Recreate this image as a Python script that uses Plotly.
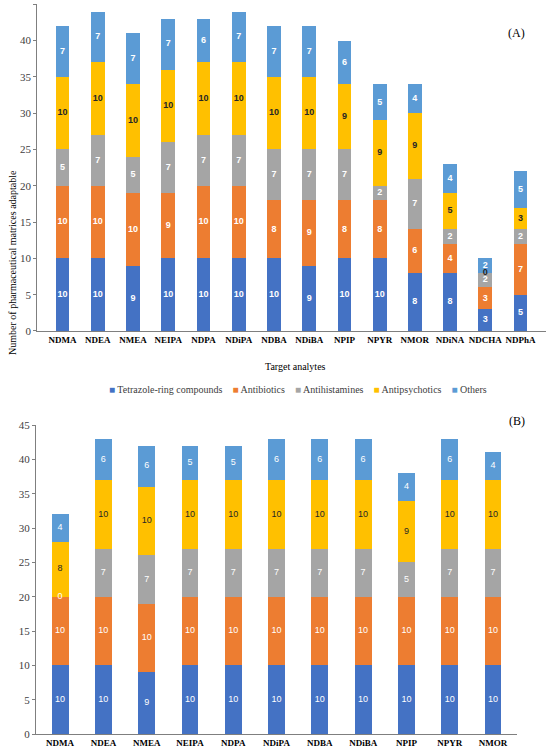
import plotly.graph_objects as go
from plotly.subplots import make_subplots

# --- Data ---
series_names = ['Tetrazole-ring compounds', 'Antibiotics', 'Antihistamines', 'Antipsychotics', 'Others']
series_colors = ['#4472C4', '#ED7D31', '#A5A5A5', '#FFC000', '#5B9BD5']
label_colors = ['white', 'white', 'white', '#262626', 'white']

analytes_a = ['NDMA', 'NDEA', 'NMEA', 'NEIPA', 'NDPA', 'NDiPA', 'NDBA', 'NDiBA',
              'NPIP', 'NPYR', 'NMOR', 'NDiNA', 'NDCHA', 'NDPhA']
tetrazole_a = [10, 10, 9, 10, 10, 10, 10, 9, 10, 10, 8, 8, 3, 5]
antibiotics_a = [10, 10, 10, 9, 10, 10, 8, 9, 8, 8, 6, 4, 3, 7]
antihistamines_a = [5, 7, 5, 7, 7, 7, 7, 7, 7, 2, 7, 2, 2, 2]
antipsychotics_a = [10, 10, 10, 10, 10, 10, 10, 10, 9, 9, 9, 5, 0, 3]
others_a = [7, 7, 7, 7, 6, 7, 7, 7, 6, 5, 4, 4, 2, 5]

analytes_b = ['NDMA', 'NDEA', 'NMEA', 'NEIPA', 'NDPA', 'NDiPA', 'NDBA', 'NDiBA',
              'NPIP', 'NPYR', 'NMOR']
tetrazole_b = [10, 10, 9, 10, 10, 10, 10, 10, 10, 10, 10]
antibiotics_b = [10, 10, 10, 10, 10, 10, 10, 10, 10, 10, 10]
antihistamines_b = [0, 7, 7, 7, 7, 7, 7, 7, 5, 7, 7]
antipsychotics_b = [8, 10, 10, 10, 10, 10, 10, 10, 9, 10, 10]
others_b = [4, 6, 6, 5, 5, 6, 6, 6, 4, 6, 4]

SERIF = 'Liberation Serif'
SANS = 'Liberation Sans'

fig = make_subplots(rows=2, cols=1)


def add_panel(row, cats, stacks, weight):
    base = [0] * len(cats)
    for i, vals in enumerate(stacks):
        fig.add_trace(go.Bar(x=cats, y=vals, name=series_names[i],
                             marker=dict(color=series_colors[i], line=dict(width=0)),
                             showlegend=False),
                      row=row, col=1)
        # value labels in the middle of each segment
        mids = [b + v / 2 for b, v in zip(base, vals)]
        fig.add_trace(go.Scatter(x=cats, y=mids, mode='text', text=[str(v) for v in vals],
                                 textfont=dict(family=SANS, size=9, color=label_colors[i], weight=weight),
                                 showlegend=False, hoverinfo='skip'),
                      row=row, col=1)
        base = [b + v for b, v in zip(base, vals)]


add_panel(1, analytes_a, [tetrazole_a, antibiotics_a, antihistamines_a, antipsychotics_a, others_a], 'bold')
add_panel(2, analytes_b, [tetrazole_b, antibiotics_b, antihistamines_b, antipsychotics_b, others_b], 'normal')

# legend drawn as one line of text between the panels
legend_text = '&nbsp;&nbsp;&nbsp;&nbsp;'.join(
    f'<span style="color:{c}">■</span> {n}' for n, c in zip(series_names, series_colors))

axis_style = dict(showline=True, linecolor='#7f7f7f', linewidth=1, showgrid=False,
                  zeroline=False, automargin=False)
tick_x = dict(family=SERIF, size=9, color='black', weight='bold')

fig.update_xaxes(**axis_style, ticks='', tickangle=0)
fig.update_yaxes(**axis_style, ticks='outside', ticklen=3, tickcolor='#7f7f7f',
                 range=[0, 45], dtick=5, tickfont=dict(family=SERIF, size=11, color='#404040'))

fig.update_layout(
    width=546, height=750,
    margin=dict(l=0, r=0, t=0, b=0),
    plot_bgcolor='white', paper_bgcolor='white',
    barmode='stack', bargap=0.61,
    xaxis=dict(domain=[0.068, 1.0], tickfont=tick_x),
    yaxis=dict(domain=[0.5587, 0.9943]),
    xaxis2=dict(domain=[0.066, 0.947], tickfont=tick_x),
    yaxis2=dict(domain=[0.0213, 0.4333]),
    annotations=[
        dict(text='Number of pharmaceutical matrices adaptable', textangle=-90,
             x=0.009, y=0.776, xref='paper', yref='paper', showarrow=False,
             font=dict(family=SERIF, size=10, color='black')),
        dict(text='Target analytes', x=0.542, y=0.512, xref='paper', yref='paper',
             showarrow=False, font=dict(family=SERIF, size=10, color='black')),
        dict(text=legend_text, x=0.545, y=0.481, xref='paper', yref='paper',
             showarrow=False, font=dict(family=SERIF, size=10, color='#404040')),
        dict(text='(A)', x=0.965, y=0.968, xref='paper', yref='paper',
             showarrow=False, font=dict(family=SERIF, size=12, color='black')),
        dict(text='(B)', x=0.965, y=0.439, xref='paper', yref='paper',
             showarrow=False, font=dict(family=SERIF, size=12, color='black')),
    ],
)

# the page body keeps a default 8px margin; drop it so the figure sits at the window corner
fig.write_html("out.html", config={'displayModeBar': False},
               post_script="document.body.style.margin = '0';")
